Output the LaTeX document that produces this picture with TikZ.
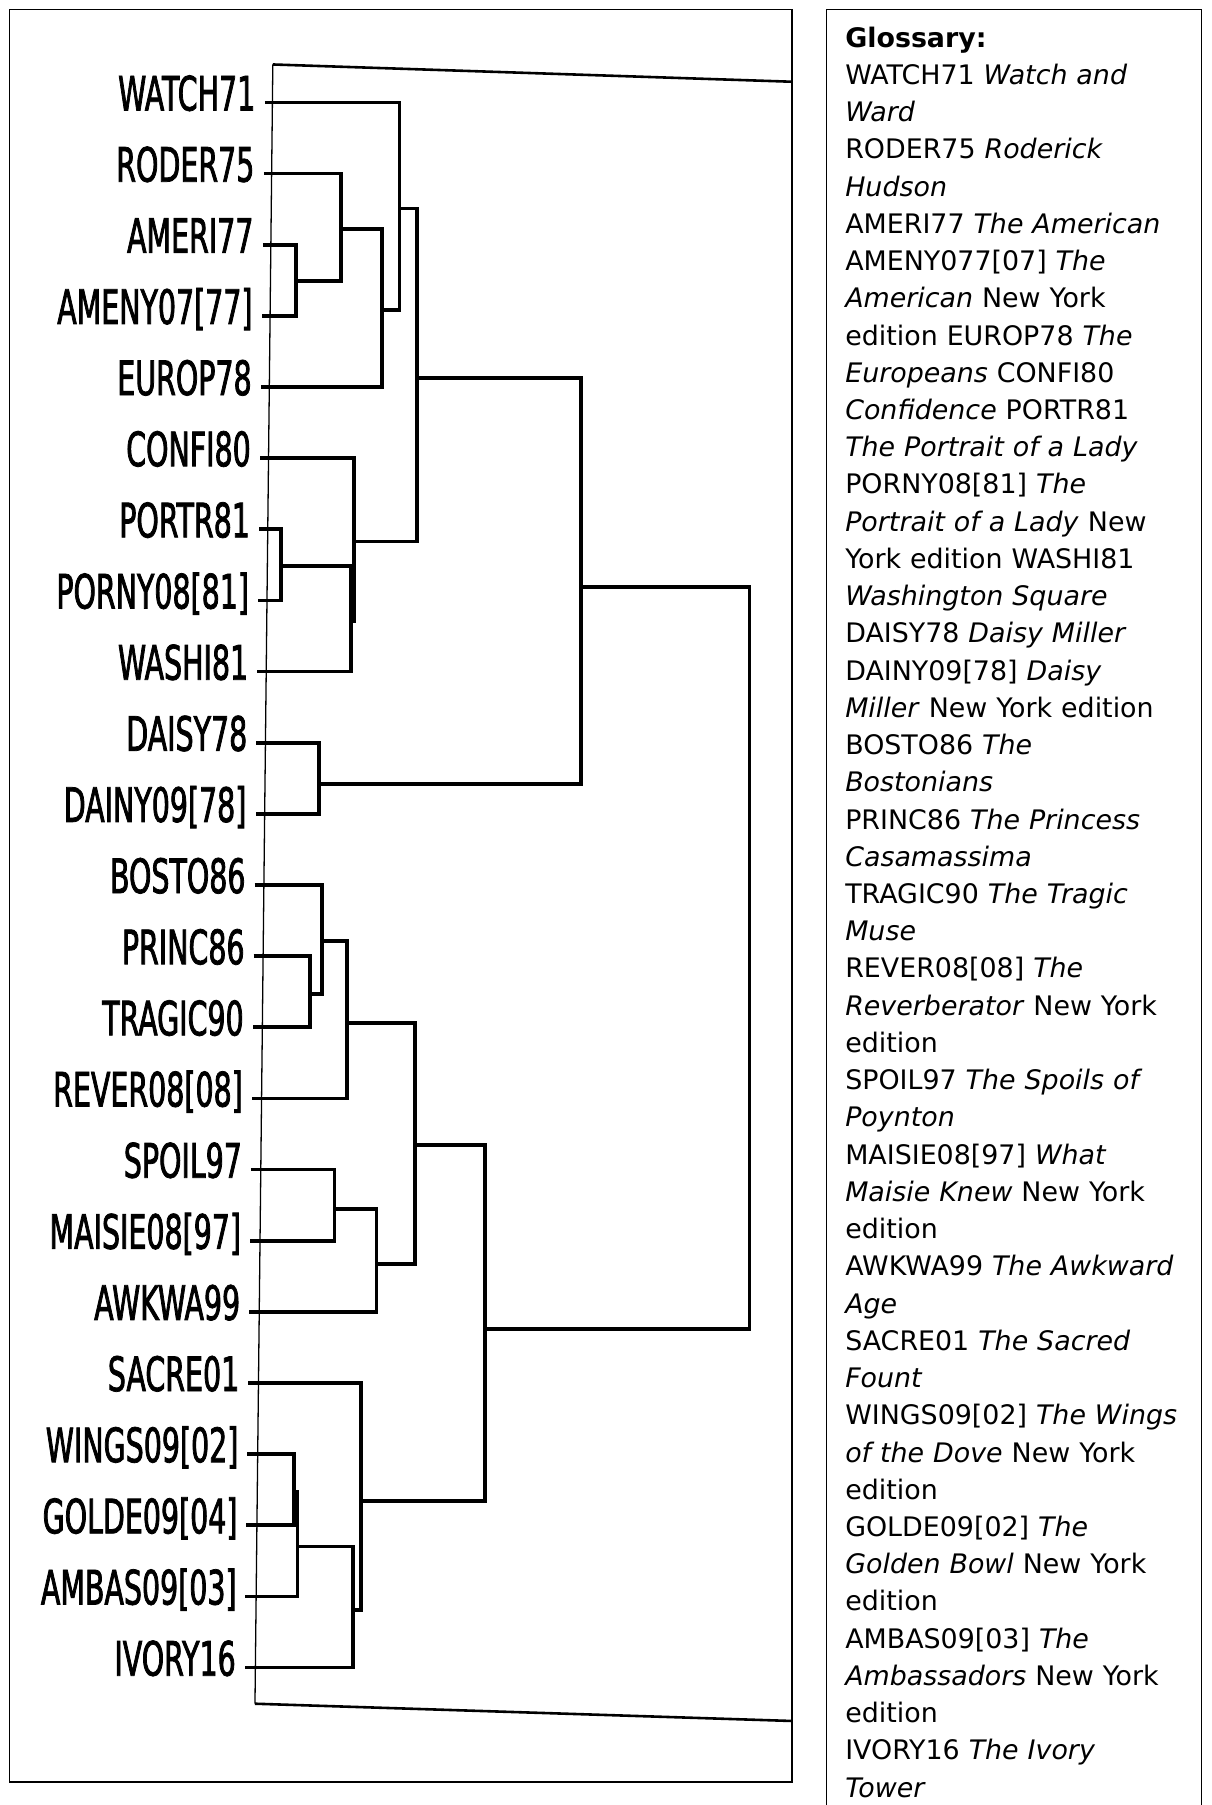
\documentclass[tikz,border=0pt]{standalone}
\usepackage{fontspec}
\setmainfont{DejaVu Sans}
\newfontfamily\leaffont[FakeStretch=0.6,FakeBold=1.6]{DejaVu Sans}

\begin{document}
\begin{tikzpicture}[x=0.025cm,y=-0.025cm,
    leaf/.style={anchor=base east, inner sep=0pt, font=\leaffont\fontsize{29.3}{30}\selectfont},
    link/.style={line width=2.3pt},
    frame/.style={line width=1.6pt},
    box/.style={line width=0.8pt},
    glossary/.style={anchor=north west, inner sep=0pt, text width=9cm, align=left, font=\fontsize{16.6}{23}\selectfont},]
    \useasboundingbox (0,0) rectangle (1052,1568);
    % the two boxes
    \draw[box] (8,8) rectangle (688,1548);
    \draw[box] (718,1600) -- (718,8) -- (1044,8) -- (1044,1600);
    % frame of the dendrogram
    \coordinate (ftl) at (237,56);
    \coordinate (ftr) at (688,71);
    \coordinate (fbl) at (221.5,1480);
    \coordinate (fbr) at (688,1495);
    \draw[frame] (ftr) -- (ftl);
    \draw[frame] (fbl) -- (fbr);
    \draw[box] (ftl) -- (fbl);
    % create the leaves
    \foreach \lbl [count=\i from 0] in {WATCH71,RODER75,AMERI77,{AMENY07[77]},EUROP78,CONFI80,PORTR81,{PORNY08[81]},WASHI81,DAISY78,{DAINY09[78]},BOSTO86,PRINC86,TRAGIC90,{REVER08[08]},SPOIL97,{MAISIE08[97]},AWKWA99,SACRE01,{WINGS09[02]},{GOLDE09[04]},{AMBAS09[03]},IVORY16}{
        \node[leaf] (lab\i) at ({222-0.77*\i},{96+61.8*\i}) {\lbl};
        \coordinate (t\i) at ({230-0.8*\i},{89+61.8*\i});
    }
    % merge points
    \coordinate (am) at (257,244.2);
    \coordinate (ra) at (296.3,198.9);
    \coordinate (re) at (332,269.5);
    \coordinate (wa) at (347,181);
    \coordinate (pp) at (243.8,491.8);
    \coordinate (pw) at (305,539.2);
    \coordinate (cp) at (307.7,470.5);
    \coordinate (wc) at (362,328.6);
    \coordinate (dd) at (276.8,681.3);
    \coordinate (top) at (504.8,510);
    \coordinate (pt) at (269.5,863.3);
    \coordinate (bp) at (279.7,817.3);
    \coordinate (br) at (301.7,888.4);
    \coordinate (sm) at (290.6,1050.2);
    \coordinate (sa) at (327,1097.8);
    \coordinate (bs) at (360.2,994.7);
    \coordinate (wg) at (255.5,1296.1);
    \coordinate (wga) at (258.5,1343.5);
    \coordinate (wgi) at (306.5,1398.6);
    \coordinate (sw) at (313.6,1303.7);
    \coordinate (low) at (421.6,1154.2);
    \coordinate (root) at (651,832);
    % connect the nodes
    \draw[link] (t2) -| (am) |- (t3);
    \draw[link] (t1) -| (ra) |- (am);
    \draw[link] (ra) -| (re) |- (t4);
    \draw[link] (t0) -| (wa) |- (re);
    \draw[link] (t6) -| (pp) |- (t7);
    \draw[link] (pp) -| (pw) |- (t8);
    \draw[link] (t5) -| (cp) |- (pw);
    \draw[link] (wa) -| (wc) |- (cp);
    \draw[link] (t9) -| (dd) |- (t10);
    \draw[link] (wc) -| (top) |- (dd);
    \draw[link] (t12) -| (pt) |- (t13);
    \draw[link] (t11) -| (bp) |- (pt);
    \draw[link] (bp) -| (br) |- (t14);
    \draw[link] (t15) -| (sm) |- (t16);
    \draw[link] (sm) -| (sa) |- (t17);
    \draw[link] (br) -| (bs) |- (sa);
    \draw[link] (t19) -| (wg) |- (t20);
    \draw[link] (wg) -| (wga) |- (t21);
    \draw[link] (wga) -| (wgi) |- (t22);
    \draw[link] (t18) -| (sw) |- (wgi);
    \draw[link] (bs) -| (low) |- (sw);
    \draw[link] (top) -| (root) |- (low);
    % glossary
    \node[glossary] (gloss) at (734,23) {\textbf{Glossary:}\\
        WATCH71 \emph{Watch and}\\
        \emph{Ward}\\
        RODER75 \emph{Roderick}\\
        \emph{Hudson}\\
        AMERI77 \emph{The American}\\
        AMENY077[07] \emph{The}\\
        \emph{American} New York\\
        edition EUROP78 \emph{The}\\
        \emph{Europeans} CONFI80\\
        \emph{Confidence} PORTR81\\
        \emph{The Portrait of a Lady}\\
        PORNY08[81] \emph{The}\\
        \emph{Portrait of a Lady} New\\
        York edition WASHI81\\
        \emph{Washington Square}\\
        DAISY78 \emph{Daisy Miller}\\
        DAINY09[78] \emph{Daisy}\\
        \emph{Miller} New York edition\\
        BOSTO86 \emph{The}\\
        \emph{Bostonians}\\
        PRINC86 \emph{The Princess}\\
        \emph{Casamassima}\\
        TRAGIC90 \emph{The Tragic}\\
        \emph{Muse}\\
        REVER08[08] \emph{The}\\
        \emph{Reverberator} New York\\
        edition\\
        SPOIL97 \emph{The Spoils of}\\
        \emph{Poynton}\\
        MAISIE08[97] \emph{What}\\
        \emph{Maisie Knew} New York\\
        edition\\
        AWKWA99 \emph{The Awkward}\\
        \emph{Age}\\
        SACRE01 \emph{The Sacred}\\
        \emph{Fount}\\
        WINGS09[02] \emph{The Wings}\\
        \emph{of the Dove} New York\\
        edition\\
        GOLDE09[02] \emph{The}\\
        \emph{Golden Bowl} New York\\
        edition\\
        AMBAS09[03] \emph{The}\\
        \emph{Ambassadors} New York\\
        edition\\
        IVORY16 \emph{The Ivory}\\
        \emph{Tower}};
\end{tikzpicture}
\end{document}
